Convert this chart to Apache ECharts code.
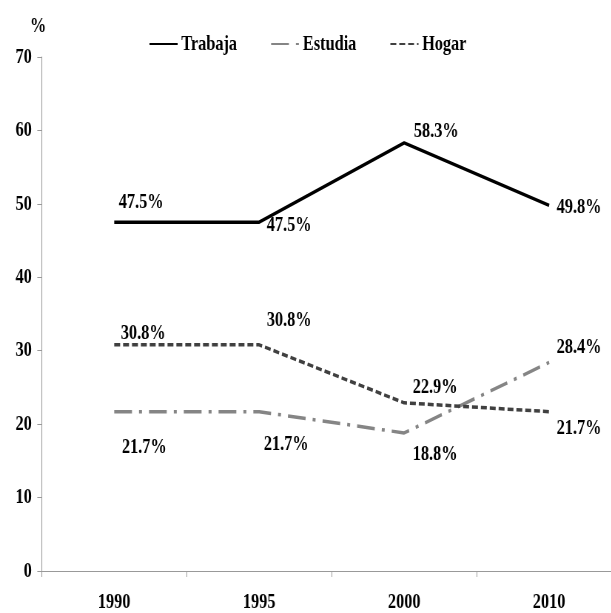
<!DOCTYPE html>
<html>
<head>
<meta charset="utf-8">
<script src="https://cdn.jsdelivr.net/npm/echarts@6/dist/echarts.min.js"></script>
<style>
html,body{margin:0;padding:0;background:#fff;overflow:hidden;width:611px;height:613px;}
#wrap{width:611px;height:613px;overflow:hidden;position:relative;}
#chart{width:860px;height:613px;transform:scaleX(0.74);transform-origin:0 0;position:absolute;left:0;top:0;}
</style>
</head>
<body>
<div id="wrap"><div id="chart"></div></div>
<script>
// Data
const years = ['1990', '1995', '2000', '2010'];
const trabaja = [47.5, 47.5, 58.3, 49.8];
const estudia = [21.7, 21.7, 18.8, 28.4];
const hogar = [30.8, 30.8, 22.9, 21.7];
const seriesNames = ['Trabaja', 'Estudia', 'Hogar'];

// Label placement (styling, screen px relative to the point)
const offTrabaja = [[27, -20], [30, 3], [32, -12], [30, 2]];
const offEstudia = [[30, 36], [27, 33], [31, 21], [30, -15]];
const offHogar = [[29, -12], [30, -25], [31, -16], [30, 17]];

const SX = 0.74;
const FONT = 'Liberation Serif';
const FS = 22;

function mk(vals, offs) {
  return vals.map((v, i) => ({ value: v, label: { offset: [offs[i][0] / SX, offs[i][1]] } }));
}

const labelBase = {
  show: true,
  position: 'inside',
  align: 'center',
  verticalAlign: 'middle',
  fontFamily: FONT,
  fontWeight: 'bold',
  fontSize: FS,
  color: '#000',
  formatter: p => p.value.toFixed(1) + '%'
};

const chart = echarts.init(document.getElementById('chart'), null, { renderer: 'canvas' });
chart.setOption({
  animation: false,
  backgroundColor: '#fff',
  textStyle: { fontFamily: FONT },
  grid: { left: 56.4, right: 20, top: 57, bottom: 42, containLabel: false },
  legend: {
    top: 28,
    left: 196,
    itemWidth: 38,
    itemHeight: 14,
    itemGap: 45,
    itemStyle: { opacity: 0 },
    textStyle: { fontFamily: FONT, fontWeight: 'bold', fontSize: FS, color: '#000' },
    data: seriesNames
  },
  xAxis: {
    type: 'category',
    data: years,
    boundaryGap: true,
    axisLine: { lineStyle: { color: '#999', width: 1 } },
    axisTick: { show: true, length: 6, lineStyle: { color: '#999' } },
    axisLabel: { margin: 20, fontFamily: FONT, fontWeight: 'bold', fontSize: FS, color: '#000' },
    splitLine: { show: false }
  },
  yAxis: {
    type: 'value',
    min: 0,
    max: 70,
    interval: 10,
    name: '%',
    nameLocation: 'end',
    nameGap: 20,
    nameTextStyle: { fontFamily: FONT, fontWeight: 'bold', fontSize: FS, color: '#000', align: 'center', padding: [0, 10, 0, 0] },
    axisLine: { show: true, lineStyle: { color: '#999', width: 1 } },
    axisTick: { show: true, length: 6, lineStyle: { color: '#999' } },
    axisLabel: { margin: 13.5, fontFamily: FONT, fontWeight: 'bold', fontSize: FS, color: '#000' },
    splitLine: { show: false }
  },
  series: [
    {
      name: seriesNames[0], type: 'line', symbol: 'circle', symbolSize: 0.1, showSymbol: true,
      data: mk(trabaja, offTrabaja),
      lineStyle: { color: '#000', width: 3.5, type: 'solid' },
      itemStyle: { color: '#000' },
      label: labelBase
    },
    {
      name: seriesNames[1], type: 'line', symbol: 'circle', symbolSize: 0.1, showSymbol: true,
      data: mk(estudia, offEstudia),
      lineStyle: { color: '#858585', width: 3.5, type: [24, 9.5, 4, 9.5] },
      itemStyle: { color: '#858585' },
      label: labelBase
    },
    {
      name: seriesNames[2], type: 'line', symbol: 'circle', symbolSize: 0.1, showSymbol: true,
      data: mk(hogar, offHogar),
      lineStyle: { color: '#404040', width: 3.5, type: [8, 4] },
      itemStyle: { color: '#404040' },
      label: labelBase
    }
  ]
});
</script>
</body>
</html>
